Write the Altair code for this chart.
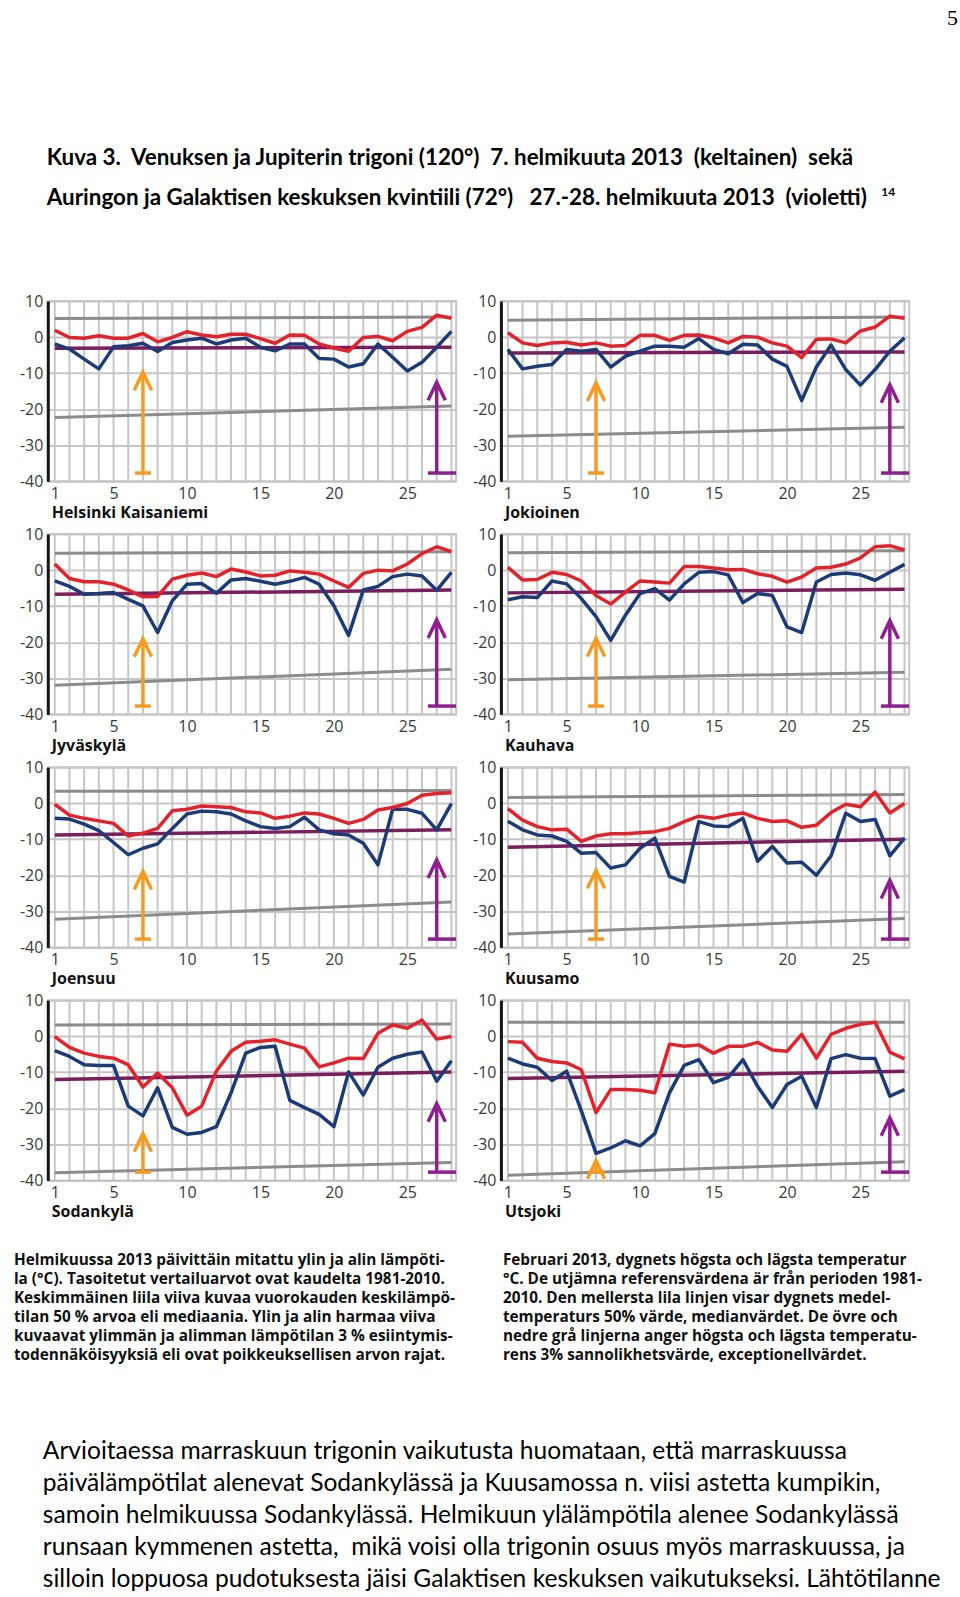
import altair as alt
import pandas as pd

DAYS = list(range(1, 29))
LABEL_DAYS = [1, 5, 10, 15, 20, 25]
Y_TICKS = [-40, -30, -20, -10, 0, 10]

# ---------------- data ----------------
names = ["Helsinki Kaisaniemi", "Jokioinen", "Jyväskylä", "Kauhava",
         "Joensuu", "Kuusamo", "Sodankylä", "Utsjoki"]

helsinki_max = [1.9, -0.1, -0.3, 0.4, -0.3, -0.3, 1.0, -1.3, -0.1, 1.5, 0.6, 0.1, 0.8, 0.8,
                -0.4, -1.7, 0.6, 0.5, -1.9, -3.0, -3.9, -0.1, 0.2, -1.0, 1.6, 2.7, 6.1, 5.2]
helsinki_min = [-1.9, -3.3, -6.1, -8.8, -2.7, -2.4, -1.7, -4.0, -1.5, -0.8, -0.3, -1.9, -0.8, -0.3,
                -2.8, -3.8, -1.9, -1.9, -5.9, -6.1, -8.3, -7.4, -1.9, -5.6, -9.4, -7.0, -2.8, 1.6]
helsinki_mean = [-3.1, -2.8]
helsinki_upper = [5.2, 5.6]
helsinki_lower = [-22.3, -19.1]
helsinki_tips = [-9.7, -12.5]

jokioinen_max = [1.2, -1.6, -2.3, -1.6, -1.4, -2.2, -1.6, -2.5, -2.3, 0.5, 0.5, -0.9, 0.5, 0.6,
                 -0.2, -1.6, 0.2, 0.0, -1.6, -2.5, -5.7, -0.6, -0.5, -1.6, 1.7, 2.8, 5.8, 5.2]
jokioinen_min = [-3.4, -8.8, -8.1, -7.6, -3.4, -3.9, -3.4, -8.3, -5.3, -3.9, -2.5, -2.5, -2.8, -0.4,
                 -3.4, -4.6, -2.0, -2.2, -6.1, -8.1, -17.6, -8.3, -2.2, -9.0, -13.3, -9.0, -3.9, -0.2]
jokioinen_mean = [-4.4, -4.1]
jokioinen_upper = [4.7, 5.6]
jokioinen_lower = [-27.5, -25.0]
jokioinen_tips = [-12.7, -13.2]

jyvaskyla_max = [1.7, -2.3, -3.2, -3.2, -3.9, -5.5, -7.4, -7.3, -2.5, -1.4, -0.8, -1.8, 0.3, -0.5,
                 -1.6, -1.4, -0.2, -0.6, -1.1, -3.0, -4.8, -0.9, 0.0, -0.2, 1.7, 4.6, 6.5, 5.1]
jyvaskyla_min = [-3.0, -4.5, -6.7, -6.5, -6.2, -8.1, -9.9, -17.3, -8.5, -3.9, -3.7, -6.4, -2.7, -2.3,
                 -3.1, -3.9, -3.1, -2.0, -3.9, -9.9, -18.1, -5.5, -4.5, -1.8, -1.1, -1.6, -5.6, -0.6]
jyvaskyla_mean = [-6.7, -5.5]
jyvaskyla_upper = [4.7, 5.1]
jyvaskyla_lower = [-31.9, -27.5]
jyvaskyla_tips = [-19.0, -13.8]

kauhava_max = [0.8, -2.7, -2.6, -0.6, -1.2, -3.0, -7.0, -9.4, -6.1, -3.0, -3.3, -3.6, 1.0, 1.0,
               0.6, 0.1, 0.2, -1.0, -1.7, -3.3, -1.9, 0.6, 0.8, 1.7, 3.4, 6.5, 6.8, 5.6]
kauhava_min = [-8.2, -7.4, -7.6, -3.0, -3.8, -7.9, -12.9, -19.5, -12.5, -6.5, -5.1, -8.3, -3.8, -0.6,
               -0.4, -1.3, -9.0, -6.5, -7.0, -15.7, -17.3, -3.3, -1.2, -0.8, -1.3, -2.8, -0.6, 1.6]
kauhava_mean = [-6.3, -5.3]
kauhava_upper = [4.8, 5.4]
kauhava_lower = [-30.4, -28.3]
kauhava_tips = [-18.9, -14.0]

joensuu_max = [-0.3, -3.3, -4.2, -4.9, -5.6, -9.1, -8.3, -7.0, -2.1, -1.7, -0.8, -1.0, -1.2, -2.4,
               -2.7, -4.2, -3.6, -2.7, -3.0, -4.2, -5.6, -4.5, -1.9, -1.2, -0.1, 2.2, 2.7, 2.9]
joensuu_min = [-4.2, -4.4, -5.8, -7.6, -10.9, -14.3, -12.5, -11.3, -7.0, -3.0, -2.2, -2.4, -3.0, -4.9,
               -6.5, -7.0, -6.5, -3.9, -7.4, -8.5, -8.8, -11.1, -17.1, -1.7, -1.7, -2.8, -7.4, -0.1]
joensuu_mean = [-8.8, -7.4]
joensuu_upper = [3.3, 3.5]
joensuu_lower = [-32.2, -27.4]
joensuu_tips = [-18.9, -15.7]

kuusamo_max = [-1.5, -4.7, -6.5, -7.4, -7.2, -10.6, -9.1, -8.5, -8.5, -8.2, -7.9, -7.0, -5.1, -3.6,
               -4.2, -3.3, -2.7, -4.2, -5.1, -4.9, -6.7, -6.1, -2.6, -0.3, -1.0, 3.1, -2.7, -0.1]
kuusamo_min = [-5.0, -7.4, -8.8, -9.1, -10.6, -13.9, -13.7, -18.0, -17.1, -12.5, -9.7, -20.3, -21.9, -5.1,
               -6.3, -6.5, -4.2, -16.1, -12.0, -16.6, -16.4, -20.0, -14.6, -2.8, -5.1, -4.5, -14.6, -9.7]
kuusamo_mean = [-12.2, -10.0]
kuusamo_upper = [1.6, 2.4]
kuusamo_lower = [-36.3, -32.0]
kuusamo_tips = [-18.6, -21.4]

sodankyla_max = [-0.1, -3.1, -4.7, -5.6, -6.1, -7.9, -14.1, -10.2, -14.3, -21.9, -19.4, -9.7, -4.2, -1.7,
                 -1.4, -1.0, -2.2, -3.3, -8.5, -7.4, -6.1, -6.2, 0.8, 3.1, 2.2, 4.5, -0.8, -0.1]
sodankyla_min = [-4.0, -5.6, -7.9, -8.1, -8.1, -19.4, -22.1, -14.3, -25.3, -27.2, -26.7, -25.1, -15.7, -4.7,
                 -3.1, -2.8, -17.8, -19.8, -21.7, -25.1, -9.9, -16.3, -8.6, -6.1, -5.0, -4.4, -12.5, -6.8]
sodankyla_mean = [-12.0, -9.9]
sodankyla_upper = [3.1, 3.4]
sodankyla_lower = [-37.9, -35.0]
sodankyla_tips = [-27.0, -18.7]

utsjoki_max = [-1.5, -1.7, -6.1, -7.0, -7.4, -9.3, -21.2, -14.8, -14.8, -15.0, -15.7, -2.2, -2.8, -2.4,
               -4.7, -2.8, -2.8, -1.7, -3.8, -4.2, 0.5, -6.1, 0.5, 2.2, 3.3, 3.9, -4.4, -6.3]
utsjoki_min = [-6.1, -7.7, -8.6, -12.3, -9.7, -20.7, -32.5, -31.0, -29.0, -30.4, -27.0, -15.7, -8.1, -6.5,
               -12.9, -11.4, -6.5, -13.9, -19.8, -13.4, -11.1, -19.8, -6.2, -5.1, -6.1, -6.2, -16.6, -14.8]
utsjoki_mean = [-11.7, -9.7]
utsjoki_upper = [3.9, 3.9]
utsjoki_lower = [-38.6, -34.8]
utsjoki_tips = [-34.5, -22.6]

arrow_days = [7, 27]          # trigon (orange) and quintile (violet)
arrow_base = -37.7
orange_bar = [6.45, 7.55]
violet_bar = [26.4, 28.32]
ref_days = [1, 28]

NB = "\u00a0"
title_lines = ["Kuva 3." + NB + " Venuksen ja Jupiterin trigoni (120°)" + NB + " 7. helmikuuta 2013" + NB
               + " (keltainen)" + NB + " sekä",
               "Auringon ja Galaktisen keskuksen kvintiili (72°)" + NB + NB + " 27.-28. helmikuuta 2013"
               + NB + " (violetti)"]
footnote = "14"
page_number = "5"

caption_fi = ["Helmikuussa 2013 päivittäin mitattu ylin ja alin lämpöti-",
              "la (°C). Tasoitetut vertailuarvot ovat kaudelta 1981-2010.",
              "Keskimmäinen liila viiva kuvaa vuorokauden keskilämpö-",
              "tilan 50 % arvoa eli mediaania. Ylin ja alin harmaa viiva",
              "kuvaavat ylimmän ja alimman lämpötilan 3 % esiintymis-",
              "todennäköisyyksiä eli ovat poikkeuksellisen arvon rajat."]
caption_sv = ["Februari 2013, dygnets högsta och lägsta temperatur",
              "°C. De utjämna referensvärdena är från perioden 1981-",
              "2010. Den mellersta lila linjen visar dygnets medel-",
              "temperaturs 50% värde, medianvärdet. De övre och",
              "nedre grå linjerna anger högsta och lägsta temperatu-",
              "rens 3% sannolikhetsvärde, exceptionellvärdet."]
paragraph = ["Arvioitaessa marraskuun trigonin vaikutusta huomataan, että marraskuussa",
             "päivälämpötilat alenevat Sodankylässä ja Kuusamossa n. viisi astetta kumpikin,",
             "samoin helmikuussa Sodankylässä. Helmikuun ylälämpötila alenee Sodankylässä",
             "runsaan kymmenen astetta," + NB + " mikä voisi olla trigonin osuus myös marraskuussa, ja",
             "silloin loppuosa pudotuksesta jäisi Galaktisen keskuksen vaikutukseksi. Lähtötilanne"]

panels = [
    (names[0], helsinki_max, helsinki_min, helsinki_mean, helsinki_upper, helsinki_lower, helsinki_tips),
    (names[1], jokioinen_max, jokioinen_min, jokioinen_mean, jokioinen_upper, jokioinen_lower, jokioinen_tips),
    (names[2], jyvaskyla_max, jyvaskyla_min, jyvaskyla_mean, jyvaskyla_upper, jyvaskyla_lower, jyvaskyla_tips),
    (names[3], kauhava_max, kauhava_min, kauhava_mean, kauhava_upper, kauhava_lower, kauhava_tips),
    (names[4], joensuu_max, joensuu_min, joensuu_mean, joensuu_upper, joensuu_lower, joensuu_tips),
    (names[5], kuusamo_max, kuusamo_min, kuusamo_mean, kuusamo_upper, kuusamo_lower, kuusamo_tips),
    (names[6], sodankyla_max, sodankyla_min, sodankyla_mean, sodankyla_upper, sodankyla_lower, sodankyla_tips),
    (names[7], utsjoki_max, utsjoki_min, utsjoki_mean, utsjoki_upper, utsjoki_lower, utsjoki_tips),
]

# ---------------- styling ----------------
PW, PH = 410, 181
LEFT, TOP = 46, 297          # page position of the first panel's plot area
PAGE_W, PAGE_H = 960, 1597
LAST_TOP = 999               # page y of the last row's plot area
GRID = "#c6c6c6"
RED = "#e3222b"
BLUE = "#1c3b77"
MEAN = "#7c1d5e"
REF = "#8c8c8c"
ORANGE = "#f59b22"
VIOLET = "#8d1f8f"
AXFONT = "Open Sans"

xs = alt.Scale(domain=[0.525, 28.32], nice=False, zero=False)
ys = alt.Scale(domain=[-40, 10], nice=False, zero=False)
x_axis = alt.Axis(values=LABEL_DAYS, grid=False, domain=False, ticks=False,
                  labelOverlap=False, labelFlush=False, labelPadding=4, labelBaseline="top",
                  labelFontSize=16, labelColor="#3a3a3a", labelFont=AXFONT, title=None)
y_axis = alt.Axis(values=Y_TICKS, grid=True, gridColor=GRID, gridWidth=2, domain=True,
                  domainColor="#151515", domainWidth=3, ticks=False, labelPadding=5,
                  labelOverlap=False, labelFlush=False, labelExpr="datum.value + ''",
                  labelFontSize=16, labelColor="#3a3a3a", labelFont=AXFONT, title=None)
X = lambda f: alt.X(f, scale=xs, axis=x_axis)
Y = lambda f: alt.Y(f, scale=ys, axis=y_axis)
one = pd.DataFrame({"a": [0]})


def panel(name, tmax, tmin, mean, upper, lower, tips, extras=()):
    ref = pd.DataFrame({"day": ref_days * 3, "value": upper + lower + mean,
                        "series": ["u", "u", "l", "l", "m", "m"]})
    daily = pd.DataFrame({"day": DAYS, "tmax": tmax, "tmin": tmin})
    arrows = pd.DataFrame({"day": arrow_days, "tip": tips, "base": [arrow_base, arrow_base],
                           "b0": [orange_bar[0], violet_bar[0]], "b1": [orange_bar[1], violet_bar[1]],
                           "kind": ["o", "v"]})
    acolor = alt.Color("kind:N", scale=alt.Scale(domain=["o", "v"], range=[ORANGE, VIOLET]), legend=None)

    vgrid = alt.Chart(pd.DataFrame({"day": DAYS})).mark_rule(color=GRID, strokeWidth=2).encode(
        x=X("day:Q"))
    grey = alt.Chart(ref).transform_filter("datum.series != 'm'").mark_line(
        color=REF, strokeWidth=3).encode(x=X("day:Q"), y=Y("value:Q"), detail="series:N")
    med = alt.Chart(ref).transform_filter("datum.series == 'm'").mark_line(
        color=MEAN, strokeWidth=3.5).encode(x=X("day:Q"), y=Y("value:Q"))
    lo = alt.Chart(daily).mark_line(color=BLUE, strokeWidth=3.5, strokeJoin="round").encode(
        x=X("day:Q"), y=Y("tmin:Q"))
    hi = alt.Chart(daily).mark_line(color=RED, strokeWidth=3.5, strokeJoin="round").encode(
        x=X("day:Q"), y=Y("tmax:Q"))
    shaft = alt.Chart(arrows).mark_rule(strokeWidth=3.5).encode(
        x=X("day:Q"), y=Y("base:Q"), y2="tip:Q", color=acolor)
    bar = alt.Chart(arrows).mark_rule(strokeWidth=3.5).encode(
        x=X("b0:Q"), x2="b1:Q", y=Y("base:Q"), color=acolor)
    head = alt.Chart(arrows).mark_point(shape="M-1,2.1L0,0L1,2.1", filled=False, size=300,
                                        strokeWidth=3.5, opacity=1).encode(
        x=X("day:Q"), y=Y("tip:Q"), color=acolor)
    label = alt.Chart(pd.DataFrame({"name": [name]})).mark_text(
        align="left", baseline="middle", font="Open Sans", fontWeight="bold", fontSize=16,
        color="#111").encode(x=alt.value(4), y=alt.value(PH + 32), text="name:N")
    return alt.layer(vgrid, grey, med, lo, hi, shaft, bar, head, label, *extras).properties(
        width=PW, height=PH, view=alt.ViewBackground(stroke=GRID, strokeWidth=2))


# page texts, placed relative to the first / last-left panel
def txt(x, y, value, **kw):
    return alt.Chart(one).mark_text(align="left", baseline="alphabetic", **kw).encode(
        x=alt.value(x), y=alt.value(y), text=alt.value(value))


top_anchor = alt.Chart(one).mark_rule(color="white", strokeWidth=1).encode(
    x=alt.value(-LEFT), x2=alt.value(PAGE_W - LEFT), y=alt.value(-TOP))
header_texts = [
    top_anchor,
    txt(45 - LEFT, 160 - TOP, title_lines, font="Lato", fontWeight="bold", fontSize=22.5,
        lineHeight=41, color="#000"),
    txt(883 - LEFT, 191 - TOP, footnote, font="Lato", fontWeight="bold", fontSize=12, color="#000"),
    txt(949 - LEFT, 20 - TOP, page_number, font="Liberation Serif", fontSize=22, color="#000"),
]
bottom_anchor = alt.Chart(one).mark_rule(color="white", strokeWidth=1).encode(
    x=alt.value(-LEFT), x2=alt.value(PAGE_W - LEFT), y=alt.value(PAGE_H - LAST_TOP - 1))
footer_texts = [
    bottom_anchor,
    txt(12 - LEFT, 1265 - LAST_TOP, caption_fi, font="Open Sans", fontWeight="bold", fontSize=15.4,
        lineHeight=19.1, color="#111"),
    txt(503 - LEFT, 1265 - LAST_TOP, caption_sv, font="Open Sans", fontWeight="bold", fontSize=15.4,
        lineHeight=19.1, color="#111"),
    txt(41 - LEFT, 1460 - LAST_TOP, paragraph, font="Lato", fontSize=24.7, lineHeight=32, color="#000"),
]

charts = []
for i, p in enumerate(panels):
    extras = header_texts if i == 0 else (footer_texts if i == 6 else ())
    charts.append(panel(*p, extras=extras))

chart = alt.concat(*charts, columns=2, spacing={"row": 53, "column": 45}, bounds="flush").properties(
    padding=0, background="white"
).configure_view(stroke=None).configure_axis(labelOverlap=False)

chart.save("out.html", embed_options={"renderer": "svg", "actions": False})
